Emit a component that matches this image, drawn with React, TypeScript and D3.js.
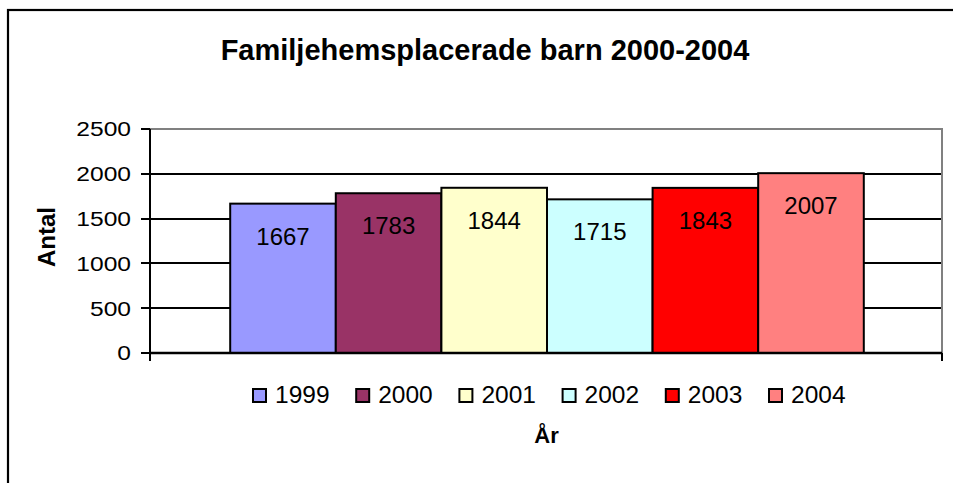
import React from 'react';
import * as d3 from 'd3';

const years = ['1999', '2000', '2001', '2002', '2003', '2004'];
const values = [1667, 1783, 1844, 1715, 1843, 2007];
const colors = ['#9999FF', '#993366', '#FFFFCC', '#CCFFFF', '#FF0000', '#FF8080'];
const yTicks = [0, 500, 1000, 1500, 2000, 2500];

const title = 'Familjehemsplacerade barn 2000-2004';
const yTitle = 'Antal';
const xTitle = 'År';

const W = 953;
const H = 483;
const FONT = '"Liberation Sans", Arial, sans-serif';

const App: React.FC = () => {
  const plot = { left: 150, right: 942, top: 129, bottom: 353 };

  const y = d3.scaleLinear().domain([0, 2500]).range([plot.bottom, plot.top]);

  // one category, six series; bars fill 80% of the plot width
  const plotW = plot.right - plot.left;
  const groupW = plotW * 0.8;
  const x = d3.scaleBand<string>()
    .domain(years)
    .range([plot.left + (plotW - groupW) / 2 + 1, plot.left + (plotW + groupW) / 2 + 1])
    .padding(0);

  const legendStart = 252;
  const legendStep = 103.2;

  return (
    <svg
      width={W}
      height={H}
      style={{ position: 'absolute', left: 0, top: 0, background: '#fff' }}
      fontFamily={FONT}
    >
      <rect x={0} y={0} width={W} height={H} fill="#fff" />
      {/* outer chart border, runs off the right and bottom */}
      <rect x={8} y={10} width={960} height={490} fill="none" stroke="#000" strokeWidth={2.2} />

      <text x={485} y={60} textAnchor="middle" fontSize={29} fontWeight="bold" fill="#000">
        {title}
      </text>

      {/* gridlines */}
      {yTicks.filter(t => t > 0 && t < 2500).map(t => (
        <line key={t} x1={plot.left} x2={plot.right} y1={Math.round(y(t))} y2={Math.round(y(t))} stroke="#000" strokeWidth={2} shapeRendering="crispEdges" />
      ))}
      {/* plot area border top/right */}
      <path
        d={`M${plot.left},${plot.top}H${plot.right}V${plot.bottom}`}
        fill="none"
        stroke="#808080"
        strokeWidth={2}
        shapeRendering="crispEdges"
      />

      {/* bars */}
      {years.map((yr, i) => (
        <rect
          key={yr}
          x={x(yr)}
          y={y(values[i])}
          width={x.bandwidth()}
          height={y(0) - y(values[i])}
          fill={colors[i]}
          stroke="#000"
          strokeWidth={2}
        />
      ))}
      {years.map((yr, i) => (
        <text
          key={yr}
          x={(x(yr) as number) + x.bandwidth() / 2}
          y={y(values[i]) + 41}
          textAnchor="middle"
          fontSize={24}
          fill="#000"
        >
          {values[i]}
        </text>
      ))}

      {/* axes */}
      <line x1={plot.left} x2={plot.left} y1={plot.top} y2={plot.bottom + 8} stroke="#000" strokeWidth={2} shapeRendering="crispEdges" />
      <line x1={plot.left} x2={plot.right} y1={plot.bottom} y2={plot.bottom} stroke="#000" strokeWidth={2.5} />
      <line x1={plot.right} x2={plot.right} y1={plot.bottom} y2={plot.bottom + 8} stroke="#000" strokeWidth={2} shapeRendering="crispEdges" />
      {yTicks.map(t => (
        <g key={t}>
          <line x1={plot.left - 9} x2={plot.left} y1={Math.round(y(t))} y2={Math.round(y(t))} stroke="#000" strokeWidth={2} shapeRendering="crispEdges" />
          <text
            transform={`translate(131,${y(t) + 7.3}) scale(1.2,1)`}
            textAnchor="end"
            fontSize={20.5}
            fill="#000"
          >
            {t}
          </text>
        </g>
      ))}

      <text
        transform={`translate(55,237) rotate(-90)`}
        textAnchor="middle"
        fontSize={24}
        fontWeight="bold"
        fill="#000"
      >
        {yTitle}
      </text>

      {/* legend */}
      {years.map((yr, i) => {
        const lx = legendStart + i * legendStep;
        return (
          <g key={yr}>
            <rect x={lx + 1} y={389} width={13} height={13} fill={colors[i]} stroke="#000" strokeWidth={2} />
            <text x={lx + 23} y={403} fontSize={24.5} fill="#000">{yr}</text>
          </g>
        );
      })}

      <text x={546.5} y={443} textAnchor="middle" fontSize={22} fontWeight="bold" fill="#000">
        {xTitle}
      </text>
    </svg>
  );
};

export default App;
